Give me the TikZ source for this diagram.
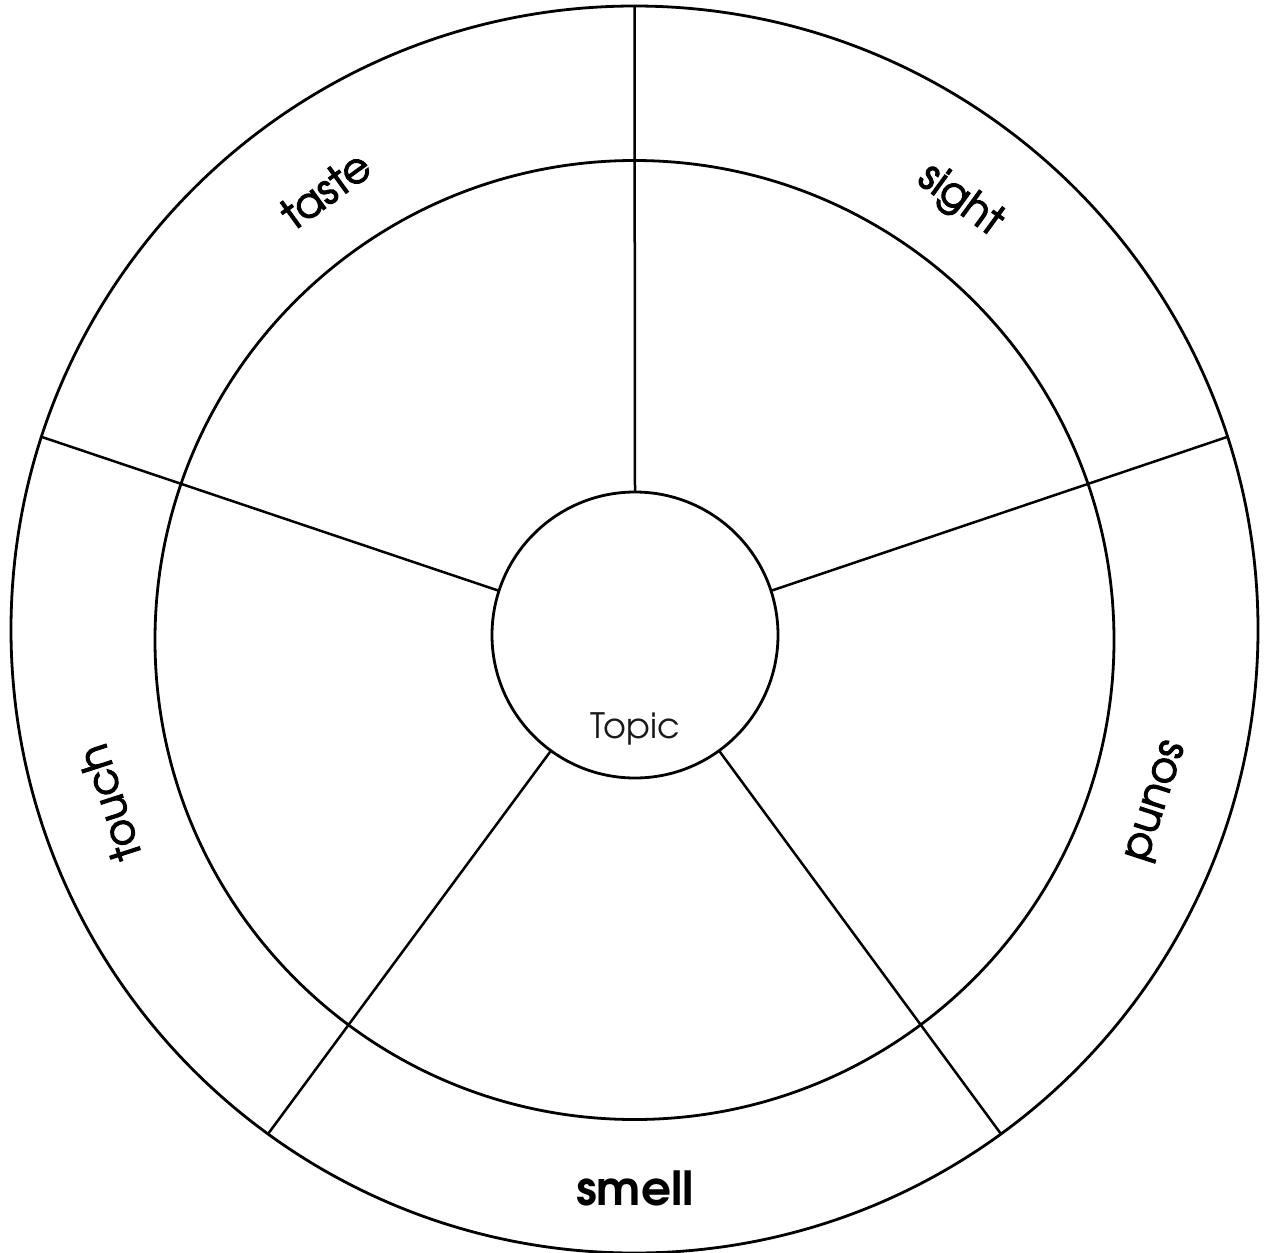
\documentclass[tikz,border=0pt]{standalone}
\usepackage{fontspec}
\setmainfont{TeX Gyre Adventor}
\newfontfamily\senselabelfont{TeX Gyre Adventor}[FakeBold=2.5]
\usetikzlibrary{calc}
\begin{document}
\begin{tikzpicture}[x=1pt,y=1pt,
  ring/.style={draw=black,line width=2.8pt,circle,inner sep=0pt,outer sep=0pt},
  spoke/.style={draw=black,line width=2.5pt},
  sense/.style={inner sep=0pt,font=\senselabelfont\fontsize{42}{50}\selectfont},
  bigsense/.style={inner sep=0pt,font=\fontsize{47}{54}\selectfont\bfseries}]
\useasboundingbox (0,0) rectangle (1264,-1253);
\coordinate (C) at (635,-632);
\node[ring,minimum size=1247pt] (outer) at (634.5,-629.5) {};
\node[ring,minimum size=959pt] (inner) at (634.5,-640) {};
\node[ring,minimum size=286pt,fill=white] (topic) at (635,-635) {};
\node[font=\fontsize{35}{40}\selectfont,text=black!90,inner sep=0pt,anchor=base] (topiclabel) at (635,-738) {Topic};
\foreach \a in {90,18,162,-54,-126}{
  \draw[spoke] (topic.\a) -- (outer.\a);
}
\node[sense,rotate=36] (taste) at ($(C)+(125:540)$) {taste};
\node[sense,rotate=-36] (sight) at ($(C)+(53:540)$) {sight};
\node[sense,rotate=-108] (sound) at ($(C)+(-18:550)$) {sound};
\node[sense,rotate=108] (touch) at ($(C)+(198:553)$) {touch};
\node[bigsense] (smell) at ($(C)+(-90:556)$) {smell};
\end{tikzpicture}
\end{document}
